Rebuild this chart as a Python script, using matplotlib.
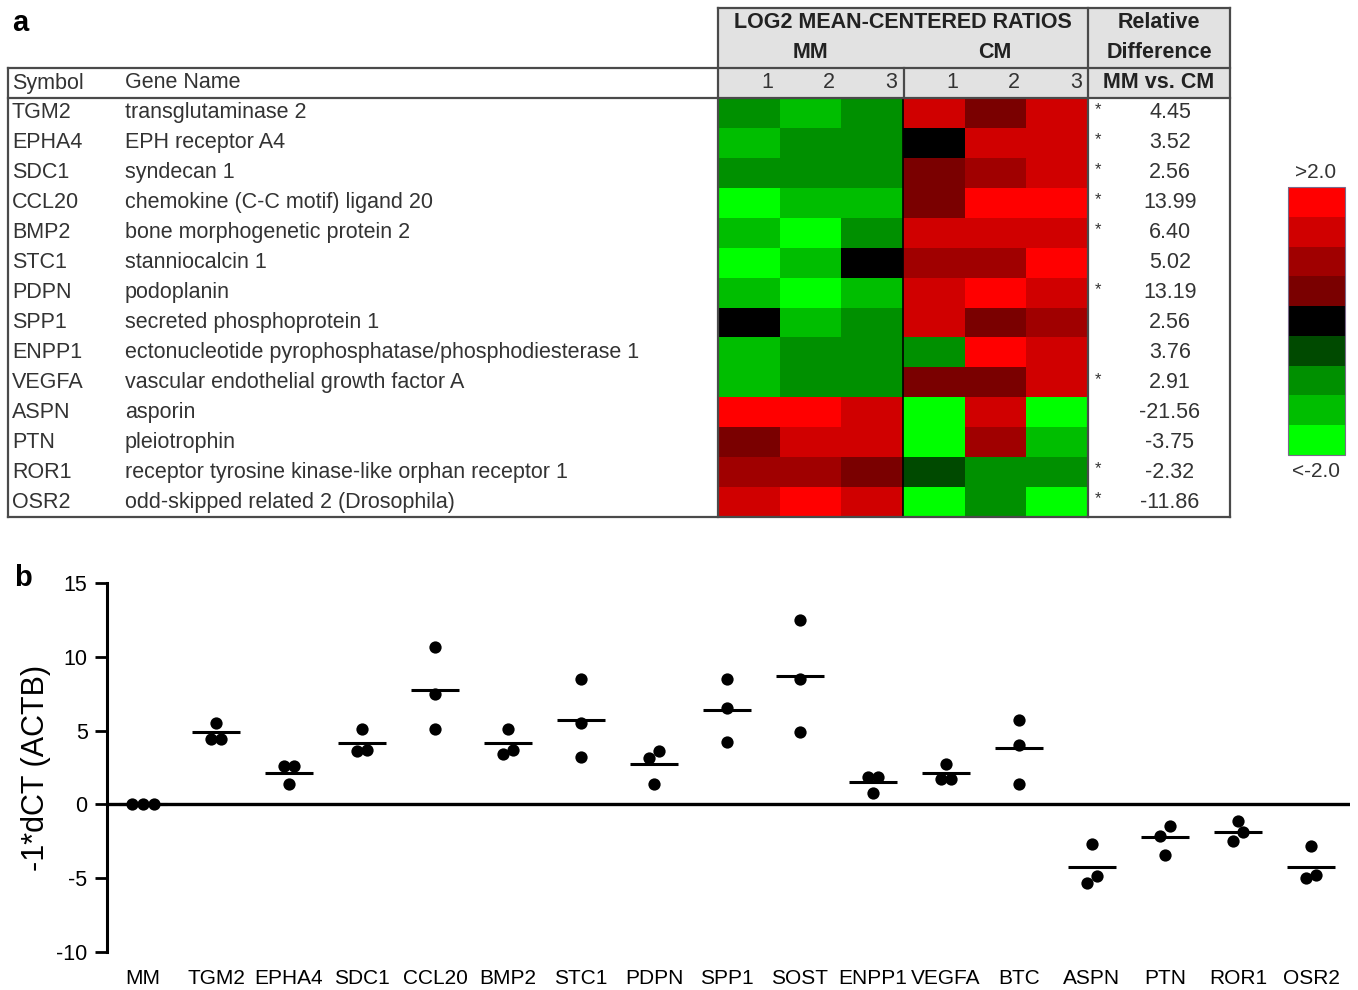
import matplotlib.pyplot as plt
import numpy as np
from matplotlib.colors import ListedColormap, BoundaryNorm

plt.rcParams['font.family'] = ['Liberation Sans', 'DejaVu Sans']
plt.rcParams['axes.unicode_minus'] = False

# ---- panel a: microarray table ----
symbols = ['TGM2', 'EPHA4', 'SDC1', 'CCL20', 'BMP2', 'STC1', 'PDPN', 'SPP1',
           'ENPP1', 'VEGFA', 'ASPN', 'PTN', 'ROR1', 'OSR2']
gene_names = ['transglutaminase 2',
              'EPH receptor A4',
              'syndecan 1',
              'chemokine (C-C motif) ligand 20',
              'bone morphogenetic protein 2',
              'stanniocalcin 1',
              'podoplanin',
              'secreted phosphoprotein 1',
              'ectonucleotide pyrophosphatase/phosphodiesterase 1',
              'vascular endothelial growth factor A',
              'asporin',
              'pleiotrophin',
              'receptor tyrosine kinase-like orphan receptor 1',
              'odd-skipped related 2 (Drosophila)']

# log2 mean-centered ratios, columns MM1 MM2 MM3 CM1 CM2 CM3 (estimated from colours)
log2_ratios = np.array([
    [-1.1, -1.6, -1.1,  1.6,  0.6,  1.6],
    [-1.6, -1.1, -1.1,  0.0,  1.6,  1.6],
    [-1.1, -1.1, -1.1,  0.6,  1.1,  1.6],
    [-2.5, -1.6, -1.6,  0.6,  2.5,  2.5],
    [-1.6, -2.5, -1.1,  1.6,  1.6,  1.6],
    [-2.5, -1.6,  0.0,  1.1,  1.1,  2.5],
    [-1.6, -2.5, -1.6,  1.6,  2.5,  1.6],
    [ 0.0, -1.6, -1.1,  1.6,  0.6,  1.1],
    [-1.6, -1.1, -1.1, -1.1,  2.5,  1.6],
    [-1.6, -1.1, -1.1,  0.6,  0.6,  1.6],
    [ 2.5,  2.5,  1.6, -2.5,  1.6, -2.5],
    [ 0.6,  1.6,  1.6, -2.5,  1.1, -1.6],
    [ 1.1,  1.1,  0.6, -0.6, -1.1, -1.1],
    [ 1.6,  2.5,  1.6, -2.5, -1.1, -2.5],
])
significant = [True, True, True, True, True, False, True, False, False, True,
               False, False, True, True]
rel_diff = [4.45, 3.52, 2.56, 13.99, 6.40, 5.02, 13.19, 2.56, 3.76, 2.91,
            -21.56, -3.75, -2.32, -11.86]

level_colors = ['#00ff00', '#00be00', '#009000', '#004a00', '#000000',
                '#7a0000', '#a00000', '#d00000', '#ff0000']
level_bounds = [-3, -2, -1.33, -0.8, -0.27, 0.27, 0.8, 1.33, 2, 3]

# ---- panel b: qPCR ----
qpcr_genes = ['MM', 'TGM2', 'EPHA4', 'SDC1', 'CCL20', 'BMP2', 'STC1', 'PDPN',
              'SPP1', 'SOST', 'ENPP1', 'VEGFA', 'BTC', 'ASPN', 'PTN', 'ROR1', 'OSR2']
qpcr_reps = [
    [0.0, 0.0, 0.0],
    [5.5, 4.45, 4.45],
    [2.6, 2.6, 1.35],
    [5.1, 3.7, 3.6],
    [10.65, 7.5, 5.1],
    [5.1, 3.7, 3.4],
    [8.5, 5.5, 3.2],
    [3.65, 3.15, 1.35],
    [8.5, 6.5, 4.25],
    [12.5, 8.5, 4.9],
    [1.85, 1.85, 0.75],
    [2.75, 1.75, 1.75],
    [5.75, 4.0, 1.35],
    [-2.65, -4.85, -5.3],
    [-1.45, -2.15, -3.4],
    [-1.1, -1.85, -2.5],
    [-2.85, -4.75, -5.0],
]
qpcr_means = [0.0, 4.9, 2.15, 4.15, 7.75, 4.15, 5.75, 2.75, 6.4, 8.7, 1.5, 2.15,
              3.85, -4.25, -2.2, -1.85, -4.25]

W, H = 1358, 990
fig = plt.figure(figsize=(W / 100, H / 100), dpi=100)


def fbox(x0, y0, x1, y1):
    # pixel box (top-left origin) -> figure fraction rect
    return [x0 / W, 1 - y1 / H, (x1 - x0) / W, (y1 - y0) / H]


# heatmap
hm_x0, hm_x1, hm_y0, hm_y1 = 718, 1088, 98, 517
cmap = ListedColormap(level_colors)
norm = BoundaryNorm(level_bounds, cmap.N)
ax_hm = fig.add_axes(fbox(hm_x0, hm_y0, hm_x1, hm_y1))
mesh = ax_hm.pcolormesh(log2_ratios, cmap=cmap, norm=norm)
ax_hm.set_xlim(0, 6)
ax_hm.set_ylim(len(symbols), 0)
ax_hm.axvline(3, color='black', lw=1.2)
ax_hm.set_axis_off()

# colour key
cax = fig.add_axes(fbox(1288, 187, 1345, 455))
cb = fig.colorbar(mesh, cax=cax, spacing='uniform')
cb.set_ticks([])
cb.minorticks_off()
cax.tick_params(which='both', length=0, labelright=False)
cb.outline.set_linewidth(0.8)
cb.outline.set_edgecolor('#7a6a8a')
fig.text(1316 / W, 1 - 173 / H, '>2.0', ha='center', va='center', fontsize=15, color='#333333')
fig.text(1316 / W, 1 - 471 / H, '<-2.0', ha='center', va='center', fontsize=15, color='#333333')

# panel b
ax = fig.add_axes(fbox(107, 583, 1350, 952))
x0 = 143
step = 73.0
ax.set_xlim((107 - x0) / step, (1350 - x0) / step)
ax.set_ylim(-10, 15)


def spread(vals, gap=0.72, w=0.15):
    # put points with close values side by side
    order = np.argsort(vals)
    offs = np.zeros(len(vals))
    groups = [[order[0]]]
    for k in order[1:]:
        if vals[k] - vals[groups[-1][-1]] < gap:
            groups[-1].append(k)
        else:
            groups.append([k])
    for g in groups:
        n = len(g)
        for j, k in enumerate(g):
            offs[k] = (j - (n - 1) / 2) * w
    return offs


for i, (reps, m) in enumerate(zip(qpcr_reps, qpcr_means)):
    vals = np.array(reps)
    xs = i + spread(vals)
    ax.scatter(xs, vals, s=78, color='black', zorder=3, clip_on=False, linewidths=0)
    ax.plot([i - 0.33, i + 0.33], [m, m], color='black', lw=2.2, solid_capstyle='butt', zorder=2)

ax.axhline(0, color='black', lw=2.4, zorder=1)
for s in ['top', 'right', 'bottom']:
    ax.spines[s].set_visible(False)
ax.spines['left'].set_linewidth(2.2)
ax.set_yticks([-10, -5, 0, 5, 10, 15])
ax.tick_params(axis='y', length=9, width=2, labelsize=15.5, pad=5, colors='black')
ax.set_xticks(range(len(qpcr_genes)))
ax.set_xticklabels(qpcr_genes, fontsize=15)
ax.tick_params(axis='x', length=0, pad=12)
ax.set_ylabel('-1*dCT (ACTB)', fontsize=22, labelpad=4)
ax.set_facecolor('none')

# table overlay in pixel coordinates
ax_t = fig.add_axes([0, 0, 1, 1])
ax_t.set_xlim(0, W)
ax_t.set_ylim(H, 0)
ax_t.set_axis_off()

ax_t.add_patch(plt.Rectangle((718, 8), 1230 - 718, 90, facecolor='#e2e2e2', edgecolor='none', zorder=0))
lc = '#4a4a4a'
lw = 1.6
ax_t.plot([718, 1230], [8, 8], color=lc, lw=lw)
ax_t.plot([8, 1230], [68, 68], color=lc, lw=lw)
ax_t.plot([8, 1230], [98, 98], color=lc, lw=lw)
ax_t.plot([8, 1230], [517, 517], color=lc, lw=lw)
ax_t.plot([8, 8], [68, 517], color=lc, lw=lw)
ax_t.plot([718, 718], [8, 517], color=lc, lw=lw)
ax_t.plot([1088, 1088], [8, 517], color=lc, lw=lw)
ax_t.plot([1230, 1230], [8, 517], color=lc, lw=lw)
ax_t.plot([904, 904], [68, 98], color=lc, lw=lw)

tc = '#333333'
fs = 15.5
ax_t.text(903, 23, 'LOG2 MEAN-CENTERED RATIOS', ha='center', va='center', fontsize=fs, fontweight='bold', color='#222222')
ax_t.text(810, 53, 'MM', ha='center', va='center', fontsize=fs, fontweight='bold', color='#222222')
ax_t.text(995, 53, 'CM', ha='center', va='center', fontsize=fs, fontweight='bold', color='#222222')
ax_t.text(1159, 23, 'Relative', ha='center', va='center', fontsize=fs, fontweight='bold', color='#222222')
ax_t.text(1159, 53, 'Difference', ha='center', va='center', fontsize=fs, fontweight='bold', color='#222222')
ax_t.text(1159, 83, 'MM vs. CM', ha='center', va='center', fontsize=fs, fontweight='bold', color='#222222')
ax_t.text(12, 83, 'Symbol', ha='left', va='center', fontsize=fs, color=tc)
ax_t.text(125, 83, 'Gene Name', ha='left', va='center', fontsize=fs, color=tc)
col_w = (hm_x1 - hm_x0) / 6
for c in range(6):
    ax_t.text(hm_x0 + (c + 1) * col_w - 6, 83, str(c % 3 + 1), ha='right', va='center', fontsize=fs, color=tc)

row_h = (hm_y1 - hm_y0) / len(symbols)
for r, (sym, name, sig, d) in enumerate(zip(symbols, gene_names, significant, rel_diff)):
    y = hm_y0 + (r + 0.5) * row_h
    ax_t.text(12, y, sym, ha='left', va='center', fontsize=fs, color=tc)
    ax_t.text(125, y, name, ha='left', va='center', fontsize=fs, color=tc)
    if sig:
        ax_t.text(1098, y - 3, '*', ha='center', va='center', fontsize=12, color=tc)
    ax_t.text(1170, y, f'{d:.2f}', ha='center', va='center', fontsize=fs, color=tc)

fig.text(12 / W, 1 - 23 / H, 'a', ha='left', va='center', fontsize=21, fontweight='bold')
fig.text(14 / W, 1 - 578 / H, 'b', ha='left', va='center', fontsize=21, fontweight='bold')

fig.savefig('out.png', dpi=100)
